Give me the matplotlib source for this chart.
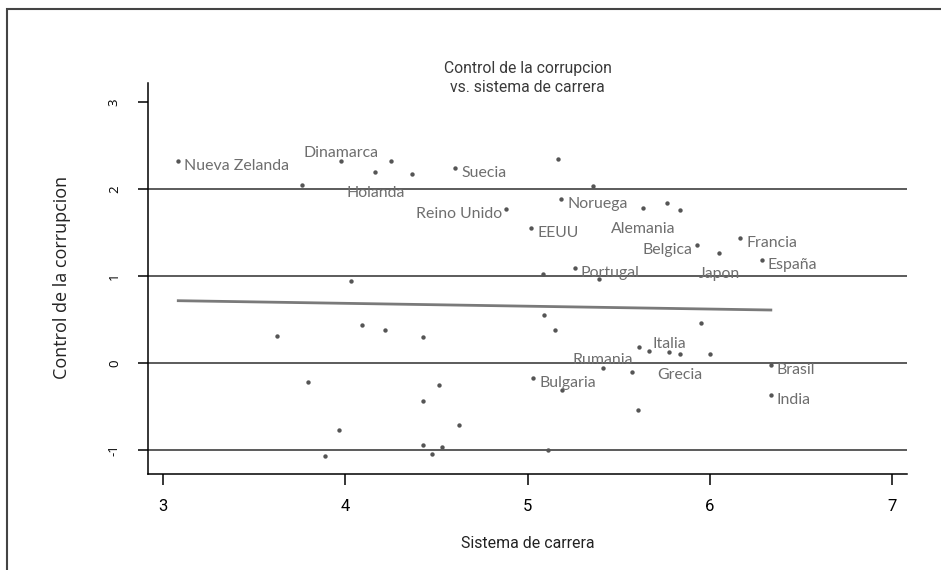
import matplotlib.pyplot as plt
from matplotlib.patches import Rectangle

# paises con etiqueta
paises = ["Nueva Zelanda", "Dinamarca", "Holanda", "Suecia", "Noruega",
          "Reino Unido", "EEUU", "Alemania", "Belgica", "Portugal", "Japon",
          "Francia", "España", "Italia", "Grecia", "Brasil", "India",
          "Rumania", "Bulgaria"]
carrera = [3.084, 3.975, 4.165, 4.603, 5.184, 4.883, 5.020, 5.636, 5.928,
           5.260, 6.053, 6.167, 6.286, 5.779, 5.835, 6.335, 6.335, 5.413, 5.031]
corrupcion = [2.325, 2.325, 2.199, 2.238, 1.885, 1.767, 1.555, 1.778, 1.362,
              1.089, 1.261, 1.440, 1.184, 0.132, 0.106, -0.025, -0.364, -0.054, -0.169]
lado = ["der", "arriba", "abajo", "der", "der", "izq", "der", "abajo", "izq",
        "der", "abajo", "der", "der", "arriba", "abajo", "der", "der", "arriba", "der"]

# resto de paises sin etiqueta
otros_x = [3.765, 4.251, 4.365, 4.032, 5.168, 5.360, 5.764, 5.834, 5.084,
           5.393, 5.951, 5.609, 5.666, 5.999, 5.089, 5.153, 5.572, 5.192,
           5.605, 4.624, 5.111, 3.626, 4.094, 4.217, 4.427, 3.794, 4.516,
           4.425, 3.964, 4.429, 4.531, 3.891, 4.475]
otros_y = [2.043, 2.325, 2.169, 0.937, 2.348, 2.038, 1.836, 1.759, 1.023,
           0.962, 0.454, 0.184, 0.138, 0.100, 0.555, 0.383, -0.103, -0.314,
           -0.537, -0.713, -0.997, 0.310, 0.437, 0.376, 0.299, -0.222, -0.256,
           -0.440, -0.774, -0.939, -0.969, -1.069, -1.049]

# recta de regresion (extremos leidos)
recta_x = [3.084, 6.335]
recta_y = [0.716, 0.609]

lineas_h = [-1, 0, 1, 2]
ticks_x = [3, 4, 5, 6, 7]
ticks_y = [-1, 0, 1, 2, 3]

W, H = 941, 570
fig = plt.figure(figsize=(W / 100, H / 100), dpi=100)
ax = fig.add_axes([148 / W, 1 - 474 / H, (907 - 148) / W, (474 - 83.3) / H])

narrow = ["Roboto", "DejaVu Sans"]
normal = ["Open Sans", "DejaVu Sans"]
gris_txt = "#6e6e6e"
gris_pt = "#555555"

for h in lineas_h:
    ax.axhline(h, color="#404040", lw=1.2, zorder=1)

ax.plot(recta_x, recta_y, color="#7a7a7a", lw=2.0, zorder=2)

ax.scatter(carrera + otros_x, corrupcion + otros_y, s=10, color=gris_pt,
           linewidths=0, zorder=3)

offsets = {"der": ((6, -9), "left"), "izq": ((-4, -9), "right"),
           "arriba": ((0, 3.5), "center"), "abajo": ((0, -25), "center")}
for nombre, x, y, l in zip(paises, carrera, corrupcion, lado):
    off, ha = offsets[l]
    ax.annotate(nombre, (x, y), xytext=off, textcoords="offset pixels",
                ha=ha, va="baseline", fontsize=11.4, color=gris_txt,
                family=["Lato", "DejaVu Sans"], zorder=4)

ax.set_xlim(2.918, 7.082)
ax.set_ylim(-1.276, 3.215)
ax.spines["top"].set_visible(False)
ax.spines["right"].set_visible(False)
ax.spines["left"].set_linewidth(1.1)
ax.spines["bottom"].set_linewidth(1.1)

ax.set_xticks(ticks_x)
ax.set_xticklabels([str(t) for t in ticks_x])
ax.set_yticks(ticks_y)
ax.set_yticklabels([str(t) for t in ticks_y], rotation=90, va="center")
ax.tick_params(axis="x", length=8, width=1.1, pad=10, labelsize=12)
ax.tick_params(axis="y", length=7.5, width=1.1, pad=12, labelsize=9.5)
for lbl in ax.get_xticklabels():
    lbl.set_family(narrow)
for lbl in ax.get_yticklabels():
    lbl.set_family(normal)

cx = (148 + 907) / 2 / W
fig.text(cx, 1 - 68 / H, "Control de la corrupcion", ha="center", va="center",
         fontsize=11.3, family=narrow, color="#3a3a3a")
fig.text(cx, 1 - 88 / H, "vs. sistema de carrera", ha="center", va="center",
         fontsize=11.3, family=narrow, color="#3a3a3a")
fig.text(cx, 1 - 544 / H, "Sistema de carrera", ha="center", va="center",
         fontsize=11.4, family=narrow, color="#222222")
fig.text(62 / W, 1 - 277.5 / H, "Control de la corrupcion", ha="center",
         va="center", rotation=90, fontsize=13, family=normal,
         color="#222222")

# marco exterior
fig.patches.append(Rectangle((6.5 / W, -0.1), 1.1, 1.1 - 9 / H,
                             transform=fig.transFigure, fill=False,
                             edgecolor="#444444", lw=1.5))

fig.savefig("out.png", dpi=100)
